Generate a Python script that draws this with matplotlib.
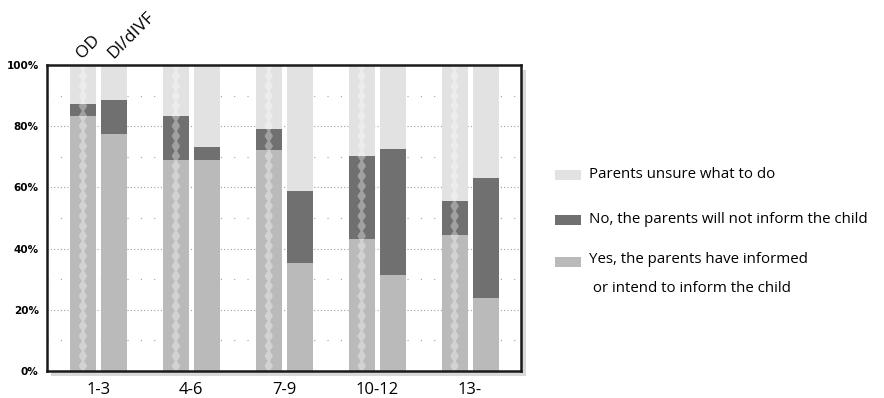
import matplotlib
matplotlib.use("Agg")
import matplotlib.pyplot as plt
from matplotlib.patches import Rectangle, Polygon
import numpy as np

# Age groups of the child and the two conception types
groups = ["1-3", "4-6", "7-9", "10-12", "13-"]
methods = ["OD", "DI/dIVF"]

# Percent of parents per answer (OD = oocyte donation, DI/dIVF = sperm donation)
yes_od = [83.3, 69.0, 72.2, 43.1, 44.4]
no_od = [4.0, 14.3, 6.9, 27.2, 11.2]
yes_di = [77.5, 69.0, 35.4, 31.4, 23.8]
no_di = [11.1, 4.2, 23.5, 41.1, 39.3]
unsure_od = [100 - y - n for y, n in zip(yes_od, no_od)]
unsure_di = [100 - y - n for y, n in zip(yes_di, no_di)]

labels = ["Yes, the parents have informed\n or intend to inform the child",
          "No, the parents will not inform the child",
          "Parents unsure what to do"]
colors = ["#bababa", "#707070", "#e2e2e2"]

W, H = 884, 398
fig = plt.figure(figsize=(W / 100, H / 100), dpi=100)
x0, x1, y0, y1 = 47, 521, 65, 371
ax = fig.add_axes([x0 / W, 1 - y1 / H, (x1 - x0) / W, (y1 - y0) / H])
ax.set_facecolor("white")

# drop shadow behind the plot frame
shadow = Rectangle(((x0 + 4) / W, 1 - (y1 + 5) / H), (x1 - x0 + 1) / W,
                   (y1 - y0) / H, transform=fig.transFigure,
                   facecolor="#d9d9d9", edgecolor="none", zorder=-5)
fig.add_artist(shadow)

x = np.arange(len(groups))
bw = 0.28
off = 0.167

for vals, xs in [((yes_od, no_od, unsure_od), x - off), ((yes_di, no_di, unsure_di), x + off)]:
    bottom = np.zeros(len(groups))
    for v, c in zip(vals, colors):
        ax.bar(xs, v, bw, bottom=bottom, color=c, zorder=2, linewidth=0)
        bottom += np.array(v)

# chain of translucent diamonds running down the OD bars
px_per_unit = (x1 - x0) / 5.102
period = 10 / (y1 - y0) * 100
hw = 4.3 / px_per_unit
waist = 1.2 / px_per_unit
n = int(100 / period) + 1
for xc in x - off:
    right = []
    for k in range(n):
        yk = k * period
        right += [(xc + waist, yk), (xc + hw, yk + period / 2)]
    right.append((xc + waist, n * period))
    pts = right + [(2 * xc - px, py) for px, py in reversed(right)]
    poly = Polygon(pts, closed=True, facecolor="white", alpha=0.35, edgecolor="none",
                   zorder=3)
    poly.set_clip_path(Rectangle((xc - bw / 2, 0), bw, 100, transform=ax.transData))
    ax.add_patch(poly)

ax.set_xlim(-0.554, 4.548)
ax.set_ylim(0, 100)
ax.set_xticks(x)
ax.set_xticklabels(groups, fontsize=12, family="Open Sans")
yt = [0, 20, 40, 60, 80, 100]
ax.set_yticks(yt)
ax.set_yticklabels([f"{v}%" for v in yt], fontsize=7.5, fontweight="bold",
                   family="DejaVu Sans")
ax.set_yticks([10, 30, 50, 70, 90], minor=True)
ax.tick_params(axis="both", which="both", length=0)
ax.tick_params(axis="y", pad=6)
ax.tick_params(axis="x", pad=8)
ax.grid(axis="y", which="major", color="#a0a0a0", linestyle=(0, (1, 2)), linewidth=0.8,
        zorder=1)
ax.grid(axis="y", which="minor", color="#a0a0a0", linestyle=(0, (1, 11)), linewidth=0.8,
        zorder=1)
ax.set_axisbelow(True)
for s in ax.spines.values():
    s.set_linewidth(1.8)
    s.set_color("#1a1a1a")
    s.set_zorder(5)

# method labels above the first pair of bars
for xm, m in zip([x[0] - off, x[0] + off], methods):
    ax.text(xm + 0.02, 101.0, m, rotation=45, ha="left", va="bottom", fontsize=12.5,
            family="Open Sans", rotation_mode="anchor")

# legend drawn at fixed pixel positions
leg_items = [(colors[2], labels[2], 175, 175),
             (colors[1], labels[1], 220, 220),
             (colors[0], labels[0], 262, 274)]
for c, lab, yp, yt_ in leg_items:
    fig.add_artist(Rectangle((555 / W, 1 - (yp + 5) / H), 26 / W, 10 / H,
                             transform=fig.transFigure, facecolor=c, edgecolor="none"))
    fig.text(589 / W, 1 - yt_ / H, lab, ha="left", va="center", fontsize=10.8,
             family="Open Sans", linespacing=2.3)

fig.savefig("out.png", dpi=100)
